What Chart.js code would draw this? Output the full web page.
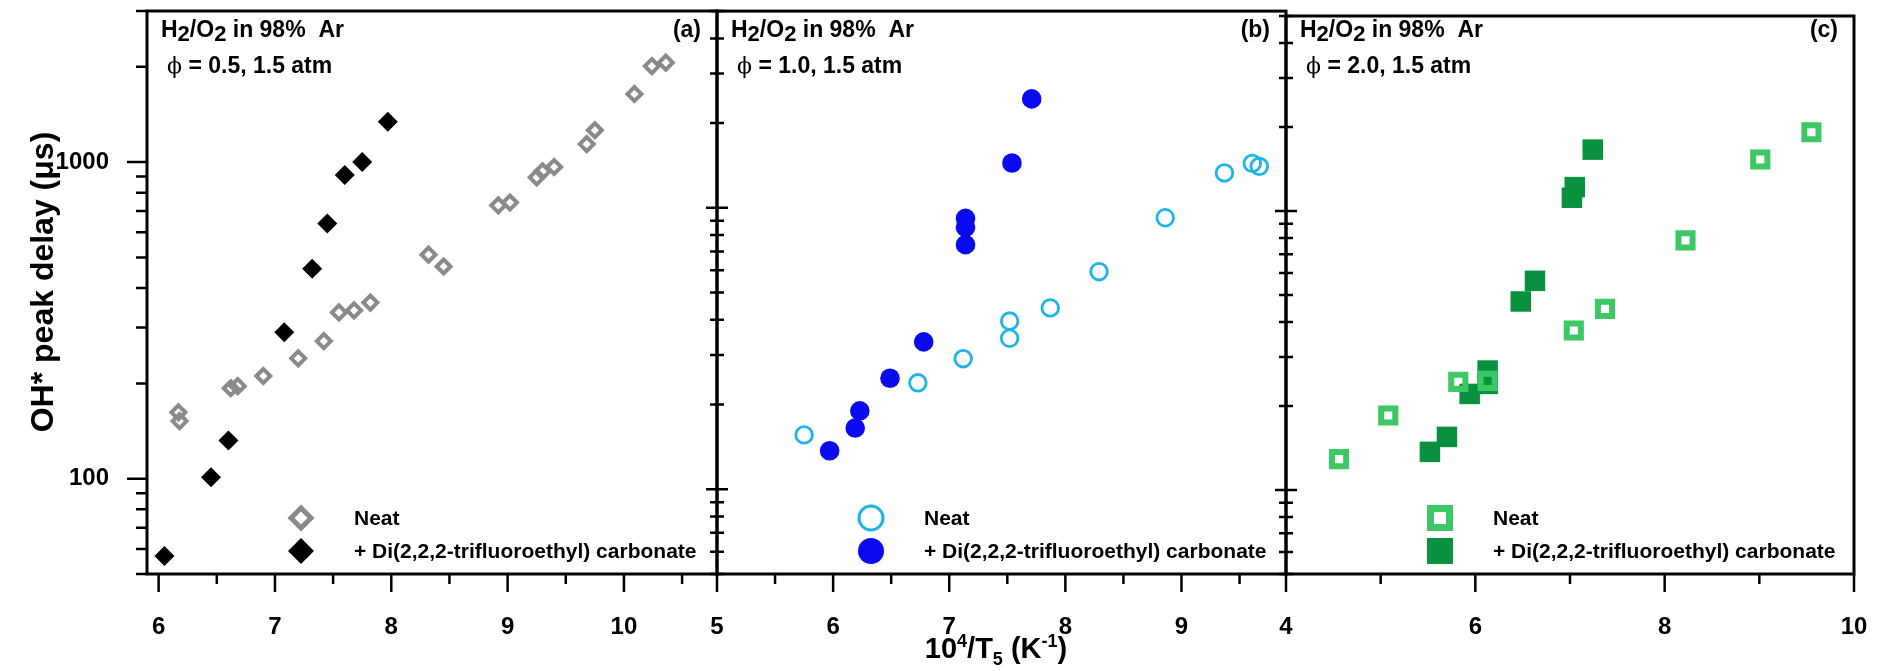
<!DOCTYPE html>
<html>
<head>
<meta charset="utf-8">
<script src="https://cdn.jsdelivr.net/npm/chart.js@4.4.1/dist/chart.umd.min.js"></script>
<style>
  html, body { margin: 0; padding: 0; background: #fff; }
  #wrap { position: relative; width: 1883px; height: 671px; }
  #wrap canvas { position: absolute; left: 0; top: 0; }
</style>
</head>
<body>
<div id="wrap">
  <canvas id="ca" width="1883" height="671"></canvas>
  <canvas id="cb" width="1883" height="671"></canvas>
  <canvas id="cc" width="1883" height="671"></canvas>
</div>
<script>
// (a) phi = 0.5
const aNeatX = [6.17, 6.18, 6.62, 6.68, 6.90, 7.20, 7.42, 7.55, 7.68, 7.82, 8.32, 8.45, 8.92, 9.02, 9.25, 9.30, 9.40, 9.68, 9.75, 10.09, 10.24, 10.36];
const aNeatY = [162, 152, 193, 196, 211, 240, 272, 335, 340, 360, 510, 468, 730, 745, 895, 935, 965, 1140, 1260, 1640, 2010, 2060];
const aAddX = [6.05, 6.45, 6.60, 7.08, 7.32, 7.45, 7.60, 7.75, 7.97];
const aAddY = [57, 101, 132, 290, 460, 640, 910, 1000, 1340];

// (b) phi = 1.0
const bNeatX = [5.75, 6.73, 7.12, 7.52, 7.52, 7.87, 8.29, 8.86, 9.37, 9.61, 9.67];
const bNeatY = [156, 239, 291, 344, 396, 441, 593, 922, 1330, 1439, 1404];
const bAddX = [5.97, 6.19, 6.23, 6.49, 6.78, 7.14, 7.14, 7.14, 7.54, 7.71];
const bAddY = [137, 165, 190, 248, 334, 740, 853, 917, 1443, 2438];

// (c) phi = 2.0
const cNeatX = [4.56, 5.08, 5.82, 6.13, 7.04, 7.37, 8.22, 9.01, 9.55];
const cNeatY = [129, 185, 244, 246, 373, 446, 785, 1530, 1915];
const cAddX = [5.52, 5.70, 5.94, 6.13, 6.13, 6.48, 6.63, 7.02, 7.05, 7.24];
const cAddY = [137, 155, 221, 240, 268, 474, 562, 1116, 1218, 1660];

// axes
const aXTicks = [6, 6.5, 7, 7.5, 8, 8.5, 9, 9.5, 10, 10.5];
const bXTicks = [5, 5.5, 6, 6.5, 7, 7.5, 8, 8.5, 9, 9.5];
const cXTicks = [4, 5, 6, 7, 8, 9, 10];
const aXLabels = [6, 7, 8, 9, 10];
const bXLabels = [5, 6, 7, 8, 9];
const cXLabels = [4, 6, 8, 10];
const aYTicks = [50, 60, 70, 80, 90, 100, 200, 300, 400, 500, 600, 700, 800, 900, 1000, 2000, 3000];
const bcYTicks = [50, 60, 70, 80, 90, 100, 200, 300, 400, 500, 600, 700, 800, 900, 1000, 2000, 3000, 4000, 5000];
const yLabels = [100, 1000];

const seriesNames = ['Neat', '+ Di(2,2,2-trifluoroethyl) carbonate'];
const phiText = ['0.5', '1.0', '2.0'];
const tags = ['(a)', '(b)', '(c)'];

const FONT = '"Liberation Sans", Arial, sans-serif';
const TOP = 7, BOTTOM = 574;

function pts(xs, ys) { return xs.map((x, i) => ({ x: x, y: ys[i] })); }

function marker(ctx, style, r, bw, fill, stroke, x, y) {
  ctx.save();
  ctx.fillStyle = fill;
  ctx.strokeStyle = stroke;
  ctx.lineWidth = bw;
  Chart.helpers.drawPoint(ctx, { pointStyle: style, radius: r, borderWidth: bw, rotation: 0 }, x, y);
  ctx.restore();
}

function drawRuns(ctx, runs, x, y) {
  // runs: [text, size, dy, weight, family]
  runs.forEach(r => {
    ctx.font = (r[3] || 'bold') + ' ' + r[1] + 'px ' + (r[4] || FONT);
    ctx.fillText(r[0], x, y + r[2]);
    x += ctx.measureText(r[0]).width;
  });
  return x;
}
function runsWidth(ctx, runs) {
  let w = 0;
  runs.forEach(r => { ctx.font = (r[3] || 'bold') + ' ' + r[1] + 'px ' + (r[4] || FONT); w += ctx.measureText(r[0]).width; });
  return w;
}

const framePlugin = {
  id: 'frame',
  afterDraw(chart, args, o) {
    const ctx = chart.ctx, a = chart.chartArea;
    const xs = chart.scales.x, ys = chart.scales.y;
    ctx.save();
    ctx.strokeStyle = '#000';
    ctx.lineWidth = 2.5;
    ctx.beginPath();
    o.xTicks.forEach(v => {
      const px = xs.getPixelForValue(v);
      const len = o.xLabels.includes(v) ? 18 : 10;
      ctx.moveTo(px, a.bottom); ctx.lineTo(px, a.bottom + len);
    });
    o.yTicks.forEach(v => {
      const py = ys.getPixelForValue(v);
      const major = yLabels.includes(v);
      if (o.cross) {
        const l = major ? 11 : 7;
        ctx.moveTo(a.left - l, py); ctx.lineTo(a.left + l, py);
      } else {
        const l = major ? 20 : 11;
        ctx.moveTo(a.left - l, py); ctx.lineTo(a.left, py);
      }
    });
    ctx.stroke();
    ctx.lineWidth = 3;
    ctx.strokeRect(a.left, a.top, a.right - a.left, a.bottom - a.top);

    // panel annotation
    ctx.fillStyle = '#000';
    ctx.textBaseline = 'alphabetic';
    ctx.textAlign = 'left';
    drawRuns(ctx, [['H', 23, 0], ['2', 22, 4], ['/O', 23, 0], ['2', 22, 4], [' in 98%  Ar', 23, 0]], a.left + 14, 37);
    const px = drawRuns(ctx, [['\u03d5', 22, 0, 'normal', '"DejaVu Serif", serif']], a.left + 20, 73);
    drawRuns(ctx, [[' = ' + o.phi + ', 1.5 atm', 23, 0]], px, 73);
    ctx.textAlign = 'right';
    ctx.font = 'bold 23px ' + FONT;
    ctx.fillText(o.tag, a.right - 16, 37);

    // legend
    const ds = chart.data.datasets;
    const lx = a.left + 154;
    marker(ctx, ds[0].pointStyle, o.legNeat[0], o.legNeat[1], 'rgba(0,0,0,0)', ds[0].borderColor, lx, 518);
    marker(ctx, ds[1].pointStyle, o.legAdd, 0, ds[1].backgroundColor, ds[1].backgroundColor, lx, 551);
    ctx.textAlign = 'left';
    ctx.textBaseline = 'middle';
    ctx.font = 'bold 21px ' + FONT;
    ctx.fillStyle = '#000';
    ctx.fillText(ds[0].label, a.left + 207, 519);
    ctx.fillText(ds[1].label, a.left + 207, 552);

    if (o.yTitle) {
      ctx.save();
      ctx.translate(44, 282);
      ctx.rotate(-Math.PI / 2);
      ctx.textAlign = 'center';
      ctx.textBaseline = 'middle';
      ctx.font = 'bold 32px ' + FONT;
      ctx.fillText('OH* peak delay (\u03bcs)', 0, 0);
      ctx.restore();
    }
    if (o.xTitle) {
      const runs = [['10', 29, 0], ['4', 18, -11], ['/T', 29, 0], ['5', 18, 7], [' (K', 29, 0], ['-1', 18, -11], [')', 29, 0]];
      ctx.textAlign = 'left';
      ctx.textBaseline = 'alphabetic';
      const w = runsWidth(ctx, runs);
      drawRuns(ctx, runs, 996 - w / 2, 658);
    }
    ctx.restore();
  }
};

function panel(id, p) {
  return new Chart(document.getElementById(id), {
    type: 'scatter',
    data: {
      datasets: [
        { label: seriesNames[0], data: p.neat, pointStyle: p.style, pointRadius: p.neatR, pointHoverRadius: p.neatR,
          pointBorderWidth: p.neatBW, borderColor: p.neatColor, backgroundColor: 'rgba(0,0,0,0)' },
        { label: seriesNames[1], data: p.add, pointStyle: p.style, pointRadius: p.addR, pointHoverRadius: p.addR,
          pointBorderWidth: 0, borderColor: p.addColor, backgroundColor: p.addColor }
      ]
    },
    options: {
      responsive: false,
      animation: false,
      devicePixelRatio: 1,
      events: [],
      layout: { padding: { left: 0, right: 1883 - p.right, top: TOP, bottom: 0 } },
      plugins: {
        legend: { display: false },
        tooltip: { enabled: false },
        frame: { xTicks: p.xTicks, xLabels: p.xLabels, yTicks: p.yTicks, cross: p.cross, phi: p.phi, tag: p.tag,
                 legNeat: p.legNeat, legAdd: p.legAdd, yTitle: p.yTitle, xTitle: p.xTitle }
      },
      scales: {
        x: {
          type: 'linear', min: p.xRange[0], max: p.xRange[1],
          afterFit: s => { s.height = 671 - BOTTOM; s.paddingLeft = 0; s.paddingRight = 0; },
          afterBuildTicks: s => { s.ticks = p.xTicks.map(v => ({ value: v })); },
          grid: { display: false }, border: { display: false },
          ticks: { autoSkip: false, maxRotation: 0, minRotation: 0, padding: 31, color: '#000',
                   font: { family: FONT, size: 24, weight: 'bold' },
                   callback: v => p.xLabels.includes(v) ? String(v) : '' }
        },
        y: {
          type: 'logarithmic', min: p.yRange[0], max: p.yRange[1],
          afterFit: s => { s.width = p.left; s.paddingTop = 0; s.paddingBottom = 0; },
          afterBuildTicks: s => { s.ticks = p.yTicks.map(v => ({ value: v })); },
          grid: { display: false }, border: { display: false },
          ticks: { display: p.yLabelsOn, autoSkip: false, padding: 30, color: '#000',
                   font: { family: FONT, size: 24, weight: 'bold' },
                   callback: v => yLabels.includes(v) ? String(v) : '' }
        }
      }
    },
    plugins: [framePlugin]
  });
}

panel('ca', {
  neat: pts(aNeatX, aNeatY), add: pts(aAddX, aAddY), style: 'rectRot',
  neatR: 7, neatBW: 4, neatColor: '#8a8a8a', addR: 10, addColor: '#000000',
  legNeat: [10, 5], legAdd: 13,
  left: 147, right: 717, xRange: [5.9, 10.8], yRange: [50, 3000],
  xTicks: aXTicks, xLabels: aXLabels, yTicks: aYTicks, cross: false, yLabelsOn: true,
  phi: phiText[0], tag: tags[0], yTitle: true, xTitle: false
});
panel('cb', {
  neat: pts(bNeatX, bNeatY), add: pts(bAddX, bAddY), style: 'circle',
  neatR: 8.3, neatBW: 2.8, neatColor: '#1fb4e8', addR: 9.8, addColor: '#0a0af0',
  legNeat: [12, 3], legAdd: 13,
  left: 717, right: 1286, xRange: [5, 9.9], yRange: [50, 5000],
  xTicks: bXTicks, xLabels: bXLabels, yTicks: bcYTicks, cross: true, yLabelsOn: false,
  phi: phiText[1], tag: tags[1], yTitle: false, xTitle: true
});
panel('cc', {
  neat: pts(cNeatX, cNeatY), add: pts(cAddX, cAddY), style: 'rect',
  neatR: 10, neatBW: 6, neatColor: '#3cc864', addR: 14.5, addColor: '#0a9140',
  legNeat: [13.4, 7], legAdd: 18.4,
  left: 1286, right: 1854, xRange: [4, 10], yRange: [50, 5000],
  xTicks: cXTicks, xLabels: cXLabels, yTicks: bcYTicks, cross: true, yLabelsOn: false,
  phi: phiText[2], tag: tags[2], yTitle: false, xTitle: false
});
</script>
</body>
</html>
